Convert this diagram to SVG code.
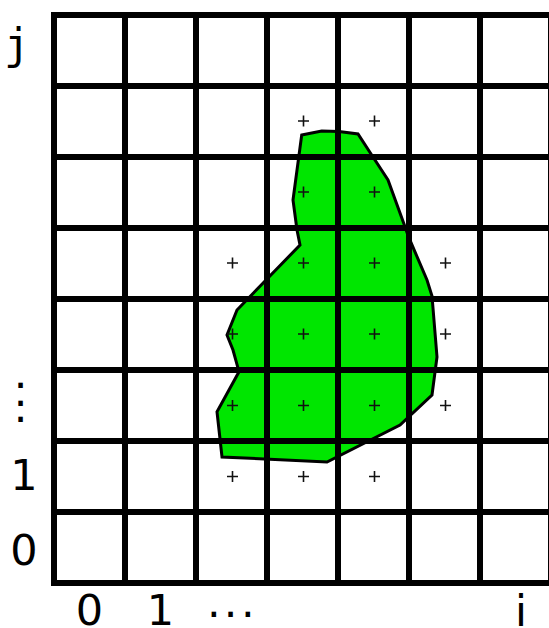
<svg xmlns="http://www.w3.org/2000/svg" width="549" height="628" viewBox="0 0 549 628">
<style>
.g{stroke:#000;stroke-width:6;stroke-linecap:square;fill:none}
.p{stroke:#111;stroke-width:1.6;fill:none}
.lab{font-family:"DejaVu Sans",Verdana,sans-serif;font-size:43px;fill:#000}
</style>
<defs>
<path id="plus" class="p" d="M-5.5,0H5.5M0,-5.5V5.5"/>
</defs>
<rect x="0" y="0" width="549" height="628" fill="#fff"/>
<g id="region">
<polygon points="301.7,135 321.7,131 339,131.5 358,134 371.7,155 388,180 405,226.7 408.5,236.7 427,280 432,296 437,357 432,395 400,425 327,462 222,457 217,411.7 239,371.7 233,350 227,335 237,310 300,245 297,230 293,200" fill="#00e600" stroke="#000" stroke-width="3" stroke-linejoin="miter"/>
</g>
<g id="grid" class="g">
<path d="M54,15V583M125,15V583M196,15V583M267,15V583M338,15V583M409,15V583M480,15V583M551,15V583"/>
<path d="M54,15H551M54,86H551M54,157H551M54,228H551M54,299H551M54,370H551M54,441H551M54,512H551M54,583H551"/>
</g>
<g id="points">
<use href="#plus" x="303.5" y="121"/><use href="#plus" x="374.5" y="121"/>
<use href="#plus" x="303.5" y="192"/><use href="#plus" x="374.5" y="192"/>
<use href="#plus" x="232.5" y="263"/><use href="#plus" x="303.5" y="263"/><use href="#plus" x="374.5" y="263"/><use href="#plus" x="445.5" y="263"/>
<use href="#plus" x="232.5" y="334"/><use href="#plus" x="303.5" y="334"/><use href="#plus" x="374.5" y="334"/><use href="#plus" x="445.5" y="334"/>
<use href="#plus" x="232.5" y="405.5"/><use href="#plus" x="303.5" y="405.5"/><use href="#plus" x="374.5" y="405.5"/><use href="#plus" x="445.5" y="405.5"/>
<use href="#plus" x="232.5" y="476.5"/><use href="#plus" x="303.5" y="476.5"/><use href="#plus" x="374.5" y="476.5"/>
</g>
<g id="labels">
<text class="lab" x="4" y="59" style="font-family:'DejaVu Sans Mono',monospace">j</text>
<text class="lab" x="13.7 13.7 13.7" y="388 405.5 421.7">...</text>
<text class="lab" x="24" y="490" text-anchor="middle">1</text>
<text class="lab" x="24" y="565" text-anchor="middle">0</text>
<text class="lab" x="89.5" y="625" text-anchor="middle">0</text>
<text class="lab" x="160.5" y="625" text-anchor="middle">1</text>
<text class="lab" x="207 223.7 241" y="616.7">...</text>
<text class="lab" x="521" y="625.5" text-anchor="middle">i</text>
</g>
</svg>
